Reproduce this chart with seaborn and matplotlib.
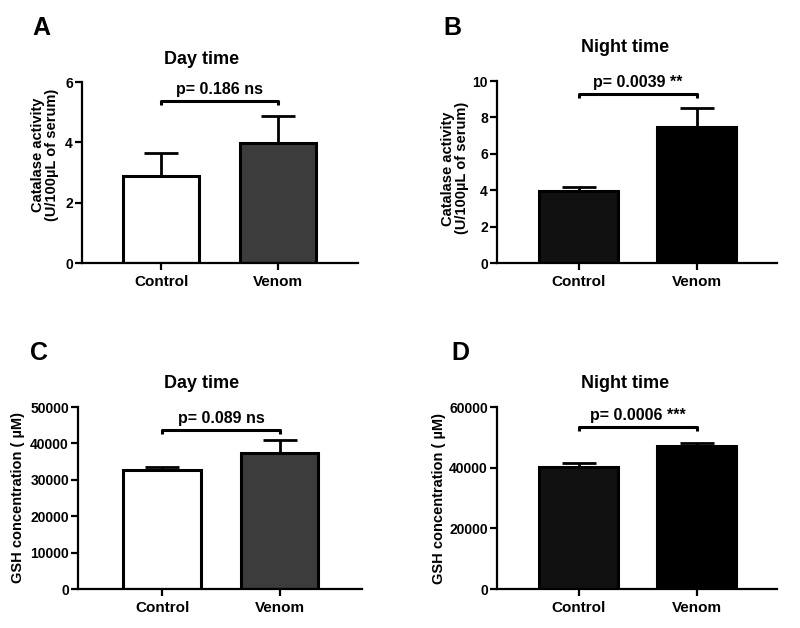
import matplotlib
matplotlib.use("Agg")
import matplotlib.pyplot as plt
import seaborn as sns
import pandas as pd
import numpy as np

# ---- data ----
groups = ["Control", "Venom"]

cat_day_mean = [2.9, 3.97]
cat_day_sem = [0.75, 0.9]
cat_night_mean = [3.93, 7.5]
cat_night_sem = [0.23, 1.03]
gsh_day_mean = [32800, 37350]
gsh_day_sem = [800, 3500]
gsh_night_mean = [40300, 47200]
gsh_night_sem = [1200, 800]

p_labels = ["p= 0.186 ns", "p= 0.0039 **", "p= 0.089 ns", "p= 0.0006 ***"]
bracket_y = [5.37, 9.27, 43600, 53400]
titles = ["Day time", "Night time", "Day time", "Night time"]
letters = ["A", "B", "C", "D"]
ylabels = ["Catalase activity\n(U/100\u00b5L of serum)",
           "Catalase activity\n(U/100\u00b5L of serum)",
           "GSH concentration ( \u00b5M)",
           "GSH concentration ( \u00b5M)"]
ymax = [6, 10, 50000, 60000]
ystep = [2, 2, 10000, 20000]

day_colors = {"Control": "#ffffff", "Venom": "#3c3c3c"}
night_colors = {"Control": "#111111", "Venom": "#000000"}

sns.set_style("ticks")
plt.rcParams["font.family"] = ["Liberation Sans", "DejaVu Sans"]
plt.rcParams["font.weight"] = "bold"
for key in ["text.color", "axes.labelcolor", "xtick.color", "ytick.color", "axes.edgecolor"]:
    plt.rcParams[key] = "black"

fig = plt.figure(figsize=(8, 6.28), dpi=100)

# axes rectangles [left, bottom, width, height] in figure fraction
rects = [
    [0.1025, 0.5812, 0.345, 0.2882],
    [0.621, 0.5812, 0.350, 0.2898],
    [0.0975, 0.0621, 0.355, 0.2898],
    [0.621, 0.0621, 0.350, 0.2898],
]
xlims = [(-0.675, 1.68), (-0.695, 1.678), (-0.715, 1.70), (-0.695, 1.678)]
bar_w = [0.65, 0.67, 0.66, 0.67]
ylab_xy = [(-0.085, 0.6), (-0.1, 0.52), (-0.185, 0.505), (-0.18, 0.5)]
title_xy = [(0.2525, 0.905), (0.781, 0.925), (0.2525, 0.39), (0.781, 0.39)]
letter_xy = [(0.052, 0.955), (0.565, 0.955), (0.049, 0.438), (0.575, 0.438)]

means = [cat_day_mean, cat_night_mean, gsh_day_mean, gsh_night_mean]
sems = [cat_day_sem, cat_night_sem, gsh_day_sem, gsh_night_sem]
palettes = [day_colors, night_colors, day_colors, night_colors]

for i in range(4):
    ax = fig.add_axes(rects[i])
    df = pd.DataFrame({"group": groups, "value": means[i]})
    sns.barplot(data=df, x="group", y="value", hue="group", palette=palettes[i],
                edgecolor="black", linewidth=2.2, width=bar_w[i],
                errorbar=None, legend=False, ax=ax, zorder=2)
    ax.errorbar([0, 1], means[i], yerr=[np.zeros(2), sems[i]], fmt="none",
                ecolor="black", elinewidth=2.0, capsize=12, capthick=2.0, zorder=1)

    ax.set_xlim(*xlims[i])
    ax.set_ylim(0, ymax[i])
    ax.set_yticks(np.arange(0, ymax[i] + 1, ystep[i]))
    ax.set_xlabel("")
    ax.set_ylabel(ylabels[i], fontsize=10.5, fontweight="bold", linespacing=1.0)
    ax.yaxis.set_label_coords(*ylab_xy[i])
    ax.tick_params(axis="x", labelsize=11, width=1.6, length=5)
    ax.tick_params(axis="y", labelsize=10, width=1.6, length=5, pad=1.5)
    for lab in ax.get_xticklabels() + ax.get_yticklabels():
        lab.set_fontweight("bold")
    sns.despine(ax=ax)
    ax.spines["left"].set_linewidth(1.6)
    ax.spines["bottom"].set_linewidth(1.6)

    # significance bracket
    by = bracket_y[i]
    drop = ymax[i] * 0.022
    ax.plot([0, 0, 1, 1], [by - drop, by, by, by - drop], color="black",
            lw=2.2, clip_on=False, solid_capstyle="butt")
    ax.annotate(p_labels[i], xy=(0.5, by), xytext=(0, 3), textcoords="offset points",
                ha="center", va="bottom", fontsize=11.5, fontweight="bold",
                annotation_clip=False)

    fig.text(*title_xy[i], titles[i], ha="center", va="center",
             fontsize=13, fontweight="bold")
    fig.text(*letter_xy[i], letters[i], ha="center", va="center",
             fontsize=18, fontweight="bold")

fig.savefig("out.png", dpi=100)
